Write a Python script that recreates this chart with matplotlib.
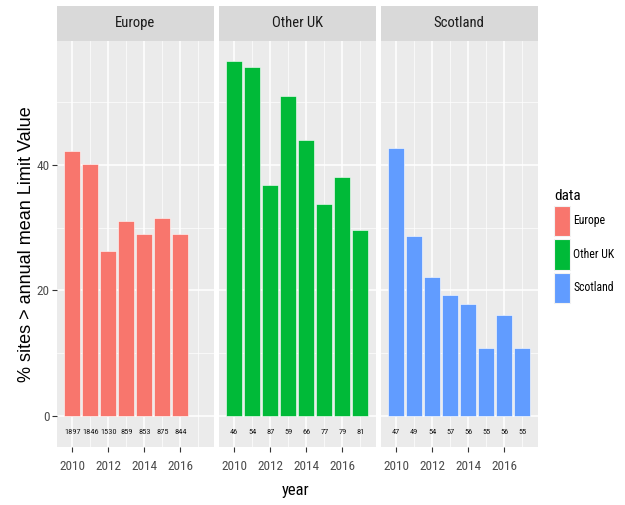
import matplotlib
matplotlib.use("Agg")
import matplotlib.pyplot as plt
from matplotlib.patches import Patch
from matplotlib.ticker import MultipleLocator

# data: % of sites over the annual mean limit value, and site counts
panels = ["Europe", "Other UK", "Scotland"]
years_europe = [2010, 2011, 2012, 2013, 2014, 2015, 2016]
europe_pct = [42.2, 40.1, 26.2, 31.1, 29.0, 31.5, 29.0]
europe_n = [1897, 1846, 1530, 859, 853, 875, 844]

years_uk = [2010, 2011, 2012, 2013, 2014, 2015, 2016, 2017]
other_uk_pct = [56.6, 55.6, 36.8, 50.9, 44.0, 33.8, 38.0, 29.6]
other_uk_n = [46, 54, 87, 59, 66, 77, 79, 81]

scotland_pct = [42.6, 28.6, 22.2, 19.3, 17.9, 10.9, 16.1, 10.9]
scotland_n = [47, 49, 54, 57, 56, 55, 56, 55]

colors = {"Europe": "#F8766D", "Other UK": "#00BA38", "Scotland": "#619CFF"}
series = {
    "Europe": (years_europe, europe_pct, europe_n),
    "Other UK": (years_uk, other_uk_pct, other_uk_n),
    "Scotland": (years_uk, scotland_pct, scotland_n),
}

NARROW = ["Roboto Condensed", "Liberation Sans", "DejaVu Sans"]
W, H = 625, 505

fig = plt.figure(figsize=(W / 100, H / 100), dpi=100)

panel_left = [57, 219, 381]
panel_w = 156.6
panel_top, panel_bot = 40.7, 447.3
strip_top = 6

for i, name in enumerate(panels):
    x0 = panel_left[i] / W
    ax = fig.add_axes([x0, 1 - panel_bot / H, panel_w / W, (panel_bot - panel_top) / H])
    ax.set_facecolor("#EBEBEB")
    for s in ax.spines.values():
        s.set_visible(False)

    yrs, pct, n = series[name]
    ax.bar(yrs, pct, width=0.9, color=colors[name], edgecolor="#FFFFFF", linewidth=0.4, zorder=3)
    for yr, cnt in zip(yrs, n):
        ax.text(yr, -2.5, str(cnt), ha="center", va="center", fontsize=6,
                family=NARROW, color="#1A1A1A", zorder=4)

    ax.set_xlim(2009.155, 2017.845)
    ax.set_ylim(-4.98, 59.76)
    ax.xaxis.set_minor_locator(MultipleLocator(1))
    ax.yaxis.set_minor_locator(MultipleLocator(10))
    ax.set_xticks([2010, 2012, 2014, 2016])
    ax.set_yticks([0, 20, 40])
    ax.grid(which="major", color="white", linewidth=1.1, zorder=0)
    ax.grid(which="minor", color="white", linewidth=0.5, zorder=0)
    ax.set_axisbelow(True)
    ax.tick_params(which="major", length=3.5, width=0.8, color="#333333",
                   labelcolor="#4D4D4D", labelsize=9.5)
    ax.tick_params(axis="x", pad=6)
    ax.tick_params(axis="y", pad=2)
    ax.tick_params(which="minor", length=0)
    for lab in ax.get_xticklabels() + ax.get_yticklabels():
        lab.set_family(NARROW)
    if i > 0:
        ax.tick_params(axis="y", which="both", left=False, labelleft=False)

    # facet strip
    sax = fig.add_axes([x0, 1 - panel_top / H, panel_w / W, (panel_top - strip_top) / H])
    sax.set_facecolor("#D9D9D9")
    sax.set_xticks([])
    sax.set_yticks([])
    for s in sax.spines.values():
        s.set_visible(False)
    sax.text(0.5, 0.5, name, ha="center", va="center", fontsize=10.5,
             family=NARROW, color="#1A1A1A", transform=sax.transAxes)

fig.text(296 / W, 1 - 490 / H, "year", ha="center", va="center",
         fontsize=12, family=NARROW, color="black")
fig.text(27 / W, 1 - 244 / H, "% sites > annual mean Limit Value", ha="center", va="center",
         rotation=90, fontsize=13, family=["Liberation Sans", "DejaVu Sans"], color="black")

handles = [Patch(facecolor=colors[p], edgecolor="#F2F2F2", linewidth=0.8) for p in panels]
leg = fig.legend(handles, panels, title="data", loc="upper left",
                 bbox_to_anchor=(554 / W, 1 - 189 / H), frameon=False,
                 borderpad=0, borderaxespad=0, handlelength=1.35, handleheight=3.6,
                 labelspacing=0.25, handletextpad=0.3, alignment="left",
                 prop={"family": NARROW, "size": 8.5},
                 title_fontproperties={"family": NARROW, "size": 11})

fig.savefig("out.png", dpi=100)
